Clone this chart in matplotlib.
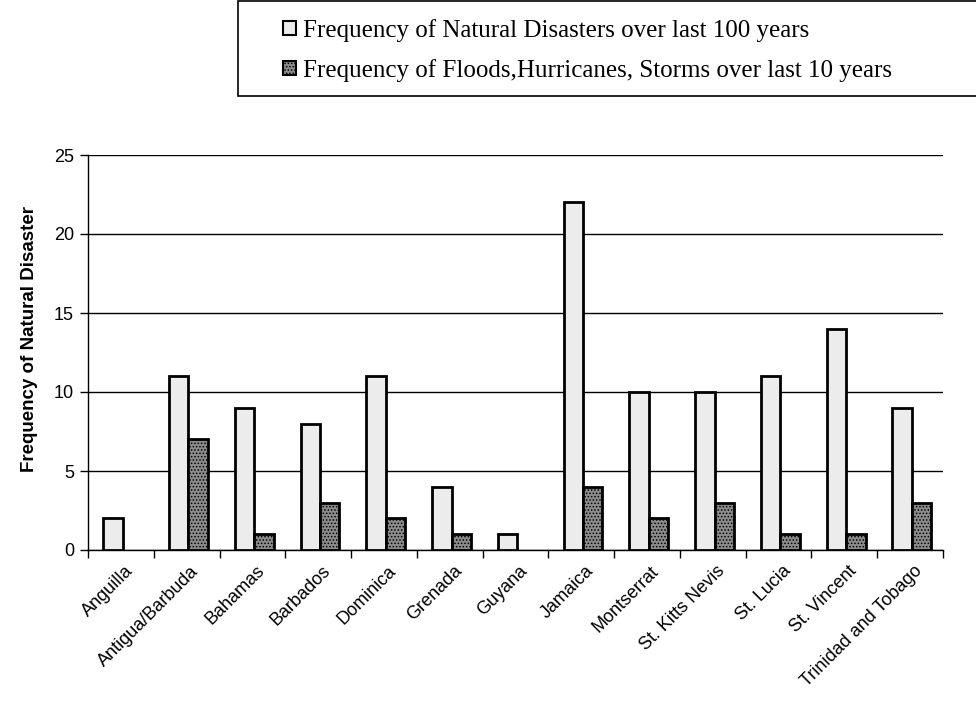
import numpy as np
import matplotlib
matplotlib.use('Agg')
import matplotlib.pyplot as plt
from matplotlib.patches import Patch, Rectangle

countries = ['Anguilla', 'Antigua/Barbuda', 'Bahamas', 'Barbados', 'Dominica',
             'Grenada', 'Guyana', 'Jamaica', 'Montserrat', 'St. Kitts Nevis',
             'St. Lucia', 'St. Vincent', 'Trinidad and Tobago']
freq_100yr = [2, 11, 9, 8, 11, 4, 1, 22, 10, 10, 11, 14, 9]
freq_10yr = [np.nan, 7, 1, 3, 2, 1, np.nan, 4, 2, 3, 1, 1, 3]

legend_labels = ['Frequency of Natural Disasters over last 100 years',
                 'Frequency of Floods,Hurricanes, Storms over last 10 years']

plt.rcParams['font.family'] = ['Liberation Sans', 'DejaVu Sans']
plt.rcParams['hatch.linewidth'] = 0.7

fig = plt.figure(figsize=(9.76, 7.16), dpi=100)
ax = fig.add_axes([88/976, 166/716, 855/976, 395/716])

x = np.arange(len(countries))
w = 0.295
light = dict(facecolor='#ececec', edgecolor='black', linewidth=2)
dark = dict(facecolor='#8c8c8c', edgecolor='black', linewidth=2, hatch='.....')

ax.bar(x + 0.232, freq_100yr, w, align='edge', zorder=3, **light)
ax.bar(x + 0.232 + w, freq_10yr, w, align='edge', zorder=3, **dark)

ax.set_xlim(0, len(countries))
ax.set_ylim(0, 25)
ax.set_yticks(range(0, 26, 5))
ax.yaxis.grid(True, color='black', linewidth=1, zorder=0)
ax.set_axisbelow(True)

# ticks on category borders, names in the middle
ax.set_xticks(np.arange(len(countries) + 1))
ax.set_xticklabels([])
ax.set_xticks(x + 0.55, minor=True)
ax.set_xticklabels(countries, minor=True, rotation=45, ha='right',
                   rotation_mode='anchor', fontsize=13)
ax.tick_params(axis='x', which='minor', length=0, pad=9)
ax.tick_params(axis='x', which='major', length=6, width=1, direction='out')
ax.tick_params(axis='y', length=6, width=1, labelsize=13, pad=4)

for s in ['top', 'right']:
    ax.spines[s].set_visible(False)
for s in ['left', 'bottom']:
    ax.spines[s].set_linewidth(1)

ax.set_ylabel('Frequency of Natural Disaster', fontsize=13.5, fontweight='bold')
ax.yaxis.set_label_coords(-0.058, 0.535)

# legend box
fig.patches.append(Rectangle((238/976, 620/716), 740/976, 95/716, transform=fig.transFigure,
                             facecolor='white', edgecolor='black', linewidth=1.2))
handles = [Patch(**light), Patch(**dark)]
for h in handles:
    h.set_linewidth(1.5)
fig.legend(handles, legend_labels, loc='upper left', bbox_to_anchor=(283/976, 697/716),
           frameon=False, prop={'family': 'Liberation Serif', 'size': 18},
           borderpad=0, borderaxespad=0,
           handlelength=0.5, handleheight=0.5, handletextpad=0.3, labelspacing=0.68)

fig.savefig('out.png', dpi=100)
